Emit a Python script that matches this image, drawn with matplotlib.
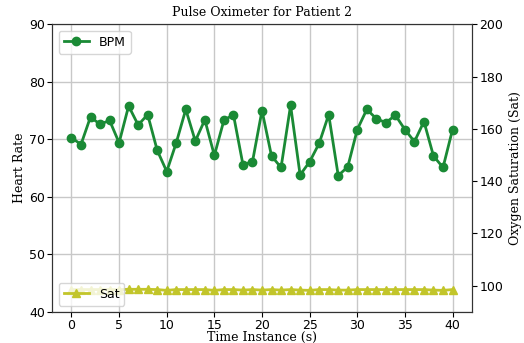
import numpy as np
import matplotlib.pyplot as plt

# pulse oximeter readings, patient 2
t = np.arange(0, 41)
bpm = [70.3, 69.1, 73.9, 72.6, 73.3, 69.4, 75.8, 72.5, 74.3, 68.1,
       64.4, 69.4, 75.2, 69.7, 73.4, 67.2, 73.3, 74.3, 65.6, 66.1,
       75.0, 67.1, 65.1, 75.9, 63.8, 66.1, 69.3, 74.3, 63.7, 65.2,
       71.7, 75.2, 73.6, 72.9, 74.2, 71.7, 69.6, 73.1, 67.1, 65.1,
       71.7]
sat = [98.5, 98.5, 98.5, 98.5, 98.5, 98.5, 98.6, 98.6, 98.6, 98.5,
       98.2, 98.5, 98.5, 98.5, 98.5, 98.2, 98.5, 98.5, 98.3, 98.5,
       98.3, 98.5, 98.3, 98.5, 98.3, 98.2, 98.5, 98.5, 98.3, 98.3,
       98.5, 98.5, 98.5, 98.5, 98.5, 98.5, 98.5, 98.5, 98.3, 98.2,
       98.5]

fig = plt.figure(figsize=(5.24, 3.43), dpi=100)
ax = fig.add_axes([0.1, 0.091, 0.8, 0.838])
ax.plot(t, bpm, color='#1a8a35', marker='o', markersize=6, linewidth=2, label='BPM')
ax.set_ylim(40, 90)
ax.set_xlim(-2, 42)
ax.set_yticks([40, 50, 60, 70, 80, 90])
ax.set_xticks(range(0, 41, 5))
ax.grid(True, color='#c8c8c8', linewidth=1)
ax.set_ylabel('Heart Rate', family='serif', fontsize=9, labelpad=2)
ax.set_xlabel('Time Instance (s)', family='serif', fontsize=9, labelpad=-1)
ax.set_title('Pulse Oximeter for Patient 2', family='serif', fontsize=9, pad=6)
ax.tick_params(labelsize=9, pad=2)
ax.legend(loc='upper left', fontsize=9)

ax2 = ax.twinx()
ax2.plot(t, sat, color='#c2c52a', marker='^', markersize=6, linewidth=2, label='Sat')
ax2.set_ylim(90, 200)
ax2.set_yticks([100, 120, 140, 160, 180, 200])
ax2.set_ylabel('Oxygen Saturation (Sat)', family='serif', fontsize=9, labelpad=4)
ax2.tick_params(labelsize=9, pad=2)
ax2.legend(loc='lower left', fontsize=9)

for a in (ax, ax2):
    for s in a.spines.values():
        s.set_color('#333333')

fig.savefig('out.png', dpi=100)
